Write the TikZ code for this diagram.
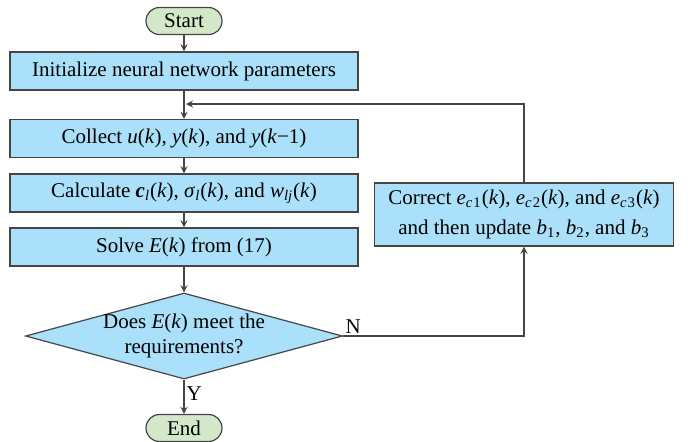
\documentclass[tikz,border=0pt]{standalone}
\usepackage{fontspec}
\setmainfont{Liberation Serif}
\usetikzlibrary{shapes.geometric}
\usetikzlibrary{calc}

\definecolor{boxblue}{RGB}{170,224,249}
\definecolor{termgreen}{RGB}{210,232,200}
\definecolor{linegray}{RGB}{70,70,70}

% italic letters and subscripts set in the text font
\newcommand{\vi}[1]{\textit{#1}}
\newcommand{\vsub}[2]{\textit{#1}\textsubscript{\textit{#2}}}

\tikzset{
  procbox/.style={draw=linegray,fill=boxblue,line width=0.6pt,
    minimum width=174pt,minimum height=19pt,inner sep=0pt,
    font=\fontsize{10.5}{12.5}\selectfont},
  termbox/.style={draw=linegray,fill=termgreen,line width=0.6pt,
    rounded corners=6.7pt,minimum width=38pt,minimum height=13.5pt,
    inner sep=0pt,font=\fontsize{10.5}{12.5}\selectfont},
  decbox/.style={draw=linegray,fill=boxblue,line width=0.6pt,diamond,
    aspect=3.69,minimum width=158.5pt,minimum height=43pt,inner sep=0pt},
  dectext/.style={align=center,inner sep=0pt,font=\fontsize{10.5}{12.5}\selectfont},
  flow/.style={draw=linegray,line width=0.6pt,-stealth},
  plain/.style={draw=linegray,line width=0.6pt},
  tag/.style={inner sep=1pt,font=\fontsize{10.5}{12.5}\selectfont},
}

\begin{document}
\begin{tikzpicture}[x=0.5pt,y=-0.5pt]
\useasboundingbox (0,0) rectangle (694,441);
% main column
\node[termbox] (start) at (184,21) {Start};
\node[procbox] (init) at (184,71) {Initialize neural network parameters};
\coordinate (merge) at (184,104);
\node[procbox] (collect) at (184,138.5) {Collect \vi{u}(\vi{k}), \vi{y}(\vi{k}), and \vi{y}(\vi{k}−1)};
\node[procbox] (calc) at (184,193)
  {Calculate \textbf{\textit{c}}\textsubscript{\textit{l}}(\vi{k}), \vsub{σ}{l}(\vi{k}), and \vsub{w}{lj}(\vi{k})};
\node[procbox] (solve) at (184,247) {Solve \vi{E}(\vi{k}) from (17)};
\node[decbox,label={[dectext]center:Does \vi{E}(\vi{k}) meet the\\requirements?}] (check) at (184,336) {};
\node[termbox] (end) at (184,428) {End};
% correction branch
\node[procbox,minimum width=149.5pt,minimum height=31.5pt,align=center,
  font=\fontsize{10.5}{15}\selectfont] (correct) at (524,214.5)
  {Correct \vsub{e}{c}\textsubscript{1}(\vi{k}), \vsub{e}{c}\textsubscript{2}(\vi{k}), and \vsub{e}{c}\textsubscript{3}(\vi{k})\\
   and then update \vi{b}\textsubscript{1}, \vi{b}\textsubscript{2}, and \vi{b}\textsubscript{3}};

\draw[flow] (start) -- (init);
\draw[plain] (init) -- (merge);
\draw[flow] (merge) -- (collect);
\draw[flow] (collect) -- (calc);
\draw[flow] (calc) -- (solve);
\draw[flow] (solve) -- (check);
\draw[flow] (check) -- node[tag,right,pos=0.4] {Y} (end);
\draw[flow] (check.east) -- node[tag,above right,pos=0] {N} (check.east -| correct.south) -- (correct.south);
\draw[flow] (correct.north) -- (correct.north |- merge) -- ($(merge)+(2,0)$);
\end{tikzpicture}
\end{document}
